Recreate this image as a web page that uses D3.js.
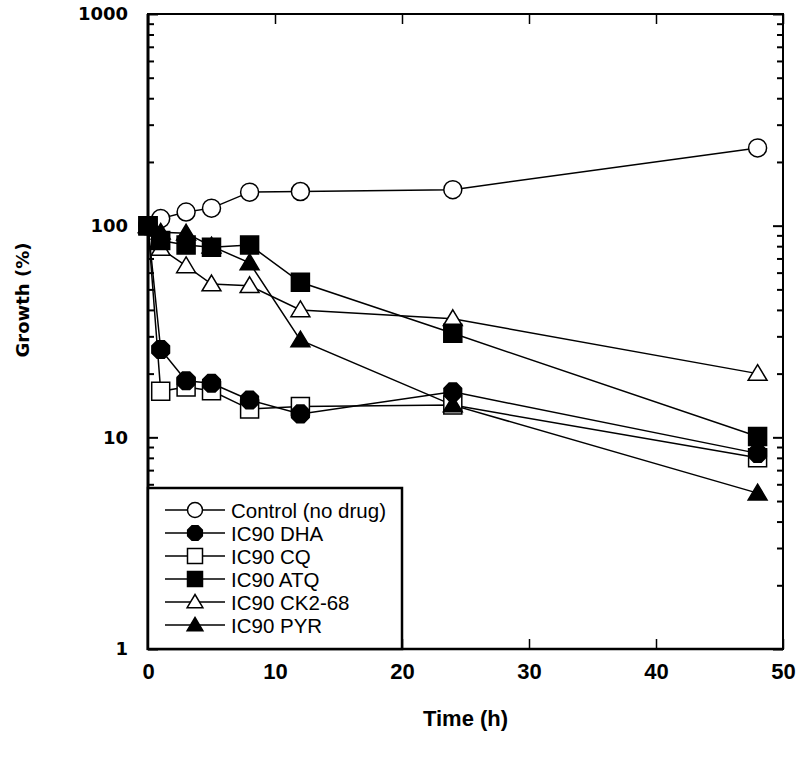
<!DOCTYPE html>
<html>
<head>
    <title>Growth over time</title>
    <style>
        body { margin: 0; background: #fff; }
        svg { display: block; }
        .tick-lab { font-family: "DejaVu Sans", sans-serif; font-weight: bold; font-size: 18px; }
        .xlab { font-family: "Liberation Sans Narrow", "Liberation Sans", Arial, sans-serif; font-weight: bold; font-size: 22px; }
        .leg { font-family: "Liberation Sans", Arial, sans-serif; font-size: 20.5px; }
    </style>
    <script src="https://d3js.org/d3.v7.min.js"></script>
</head>
<body>
<div id="chart"></div>
<script>
// time points (h)
var times = [0, 1, 3, 5, 8, 12, 24, 48];

// growth (%) per series
var control = [100, 108, 116, 121, 144, 145, 148, 233];
var dha     = [100, 26, 18.5, 18, 15, 12.9, 16.4, 8.4];
var cq      = [100, 16.5, 17.3, 16.6, 13.6, 14, 14.2, 8.0];
var atq     = [100, 85, 81, 79, 81, 54, 31, 10.1];
var ck2     = [100, 78, 64.5, 53, 52, 40, 36.3, 20];
var pyr     = [100, 93, 92, 80, 66.7, 28.8, 14.2, 5.45];

var seriesNames = ['Control (no drug)', 'IC90 DHA', 'IC90 CQ', 'IC90 ATQ', 'IC90 CK2-68', 'IC90 PYR'];
var seriesShapes = ['circle', 'octagon', 'square', 'square', 'triangle', 'triangle'];
var seriesFilled = [false, true, false, true, false, true];
var seriesValues = [control, dha, cq, atq, ck2, pyr];

var xTicks = [0, 10, 20, 30, 40, 50];
var yTicks = [1, 10, 100, 1000];

var W = 798, H = 761;
var pLeft = 148, pRight = 783, pTop = 14, pBottom = 649;

var svg = d3.select('#chart').append('svg')
    .attr('width', W)
    .attr('height', H);

var x = d3.scaleLinear().domain([0, 50]).range([pLeft, pRight]);
var y = d3.scaleLog().domain([1, 1000]).range([pBottom, pTop]);

// minor log ticks 2..9 of each decade
var minor = [];
[1, 10, 100].forEach(function(d) {
    for (var k = 2; k <= 9; k++) minor.push(d * k);
});

// left axis
svg.append('g')
    .attr('transform', 'translate(' + pLeft + ',0)')
    .call(d3.axisLeft(y).tickValues(yTicks).tickFormat(d3.format('d')).tickSizeInner(-10).tickSizeOuter(0).tickPadding(20))
    .call(function(g) {
        g.select('.domain').remove();
        g.selectAll('line').attr('stroke-width', 2);
        g.selectAll('text').attr('class', 'tick-lab').attr('fill', '#000');
    });
svg.append('g')
    .attr('transform', 'translate(' + pLeft + ',0)')
    .call(d3.axisLeft(y).tickValues(minor).tickFormat('').tickSizeInner(-6).tickSizeOuter(0))
    .call(function(g) { g.select('.domain').remove(); g.selectAll('line').attr('stroke-width', 2); });

// right axis
svg.append('g')
    .attr('transform', 'translate(' + pRight + ',0)')
    .call(d3.axisRight(y).tickValues(yTicks).tickFormat('').tickSizeInner(-10).tickSizeOuter(0))
    .call(function(g) { g.select('.domain').remove(); g.selectAll('line').attr('stroke-width', 2); });
svg.append('g')
    .attr('transform', 'translate(' + pRight + ',0)')
    .call(d3.axisRight(y).tickValues(minor).tickFormat('').tickSizeInner(-6).tickSizeOuter(0))
    .call(function(g) { g.select('.domain').remove(); g.selectAll('line').attr('stroke-width', 2); });

// bottom axis
svg.append('g')
    .attr('transform', 'translate(0,' + pBottom + ')')
    .call(d3.axisBottom(x).tickValues(xTicks).tickFormat(d3.format('d')).tickSizeInner(-10).tickSizeOuter(0).tickPadding(14))
    .call(function(g) {
        g.select('.domain').remove();
        g.selectAll('line').attr('stroke-width', 1.5);
        g.selectAll('text').attr('class', 'xlab').attr('fill', '#000');
    });

// top axis
svg.append('g')
    .attr('transform', 'translate(0,' + pTop + ')')
    .call(d3.axisTop(x).tickValues(xTicks).tickFormat('').tickSizeInner(-10).tickSizeOuter(0))
    .call(function(g) { g.select('.domain').remove(); g.selectAll('line').attr('stroke-width', 1.5); });

// frame
svg.append('rect')
    .attr('x', pLeft).attr('y', pTop)
    .attr('width', pRight - pLeft).attr('height', pBottom - pTop)
    .attr('fill', 'none').attr('stroke', '#000').attr('stroke-width', 2);
svg.append('line').attr('x1', pLeft).attr('x2', pLeft).attr('y1', pTop).attr('y2', pBottom + 1)
    .attr('stroke', '#000').attr('stroke-width', 3);
svg.append('line').attr('x1', pLeft).attr('x2', pRight).attr('y1', pBottom).attr('y2', pBottom)
    .attr('stroke', '#000').attr('stroke-width', 2.5);

// axis titles
svg.append('text')
    .attr('class', 'xlab')
    .attr('x', (pLeft + pRight) / 2)
    .attr('y', 726)
    .attr('text-anchor', 'middle')
    .text('Time (h)');

svg.append('text')
    .attr('class', 'tick-lab')
    .attr('transform', 'translate(29,300) rotate(-90)')
    .attr('text-anchor', 'middle')
    .text('Growth (%)');

function markerPath(shape, r) {
    var pts = [];
    if (shape === 'square') {
        pts = [[-r, -r], [r, -r], [r, r], [-r, r]];
    } else if (shape === 'triangle') {
        pts = [[0, -r * 1.0], [r * 1.05, r * 0.75], [-r * 1.05, r * 0.75]];
    } else if (shape === 'octagon') {
        for (var i = 0; i < 8; i++) {
            var a = Math.PI / 8 + i * Math.PI / 4;
            pts.push([r * 1.06 * Math.cos(a), r * 1.06 * Math.sin(a)]);
        }
    }
    return 'M' + pts.map(function(p) { return p[0].toFixed(2) + ',' + p[1].toFixed(2); }).join('L') + 'Z';
}

function drawMarker(g, shape, filled, r) {
    if (shape === 'circle') {
        g.append('circle').attr('r', r);
    } else {
        g.append('path').attr('d', markerPath(shape, r));
    }
    g.selectAll('circle,path')
        .attr('fill', filled ? '#000' : '#fff')
        .attr('stroke', '#000')
        .attr('stroke-width', 1.5);
}

var line = d3.line()
    .x(function(d, i) { return x(times[i]); })
    .y(function(d) { return y(d); });

var plot = svg.append('g');
var order = [0, 4, 2, 1, 5, 3];
order.forEach(function(s) {
    plot.append('path')
        .datum(seriesValues[s])
        .attr('d', line)
        .attr('fill', 'none')
        .attr('stroke', '#000')
        .attr('stroke-width', 1.5);
});
order.forEach(function(s) {
    seriesValues[s].forEach(function(v, i) {
        var g = plot.append('g').attr('transform', 'translate(' + x(times[i]) + ',' + y(v) + ')');
        drawMarker(g, seriesShapes[s], seriesFilled[s], 9);
    });
});

// legend
var legend = svg.append('g');
legend.append('rect')
    .attr('x', pLeft).attr('y', 488)
    .attr('width', 254).attr('height', pBottom - 488)
    .attr('fill', '#fff').attr('stroke', '#000').attr('stroke-width', 2.5);

seriesNames.forEach(function(name, s) {
    var ly = 510 + s * 23;
    var row = legend.append('g').attr('transform', 'translate(0,' + ly + ')');
    row.append('line').attr('x1', 165).attr('x2', 225).attr('y1', 0).attr('y2', 0)
        .attr('stroke', '#000').attr('stroke-width', 1.5);
    var m = row.append('g').attr('transform', 'translate(195,0)');
    drawMarker(m, seriesShapes[s], seriesFilled[s], 7.5);
    row.append('text')
        .attr('class', 'leg')
        .attr('x', 231)
        .attr('y', 7.5)
        .text(name);
});
</script>
</body>
</html>
